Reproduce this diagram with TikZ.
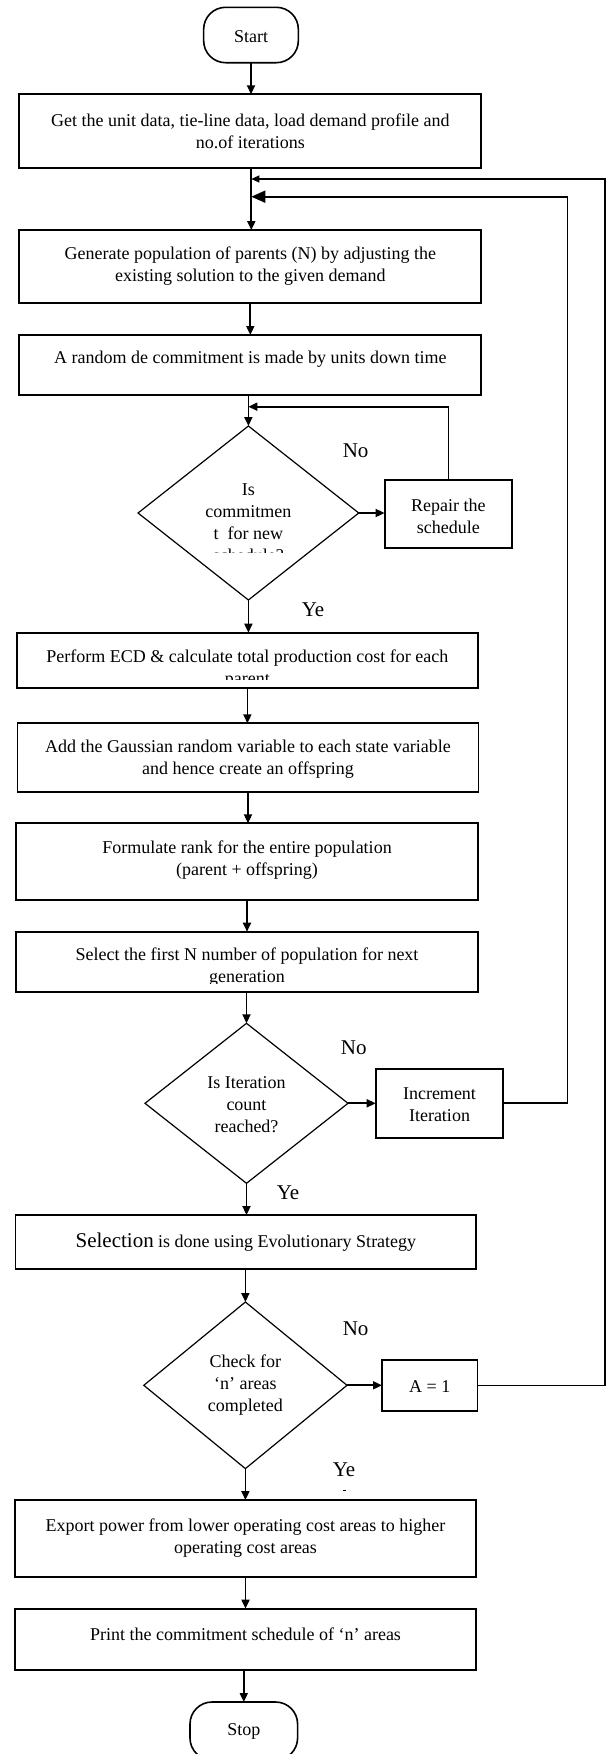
\documentclass[tikz,border=0pt]{standalone}
\usepackage{fontspec}
\setmainfont{Liberation Serif}
\usetikzlibrary{arrows.meta,shapes.geometric}
\begin{document}
\begin{tikzpicture}[x=1pt,y=-1pt,
  box/.style={draw,line width=1.8pt,inner sep=0pt,outer sep=0pt},
  dia/.style={draw,diamond,line width=1.2pt,inner sep=0pt,outer sep=0pt},
  term/.style={draw,line width=1.6pt,rounded corners=22pt,inner sep=0pt,outer sep=0pt},
  txt/.style={inner sep=0pt,align=center,font=\fontsize{18}{22}\selectfont},
  lbl/.style={inner sep=0pt,font=\fontsize{21}{24}\selectfont},
  arr/.style={line width=1.8pt,-{Triangle[length=9pt,width=8pt]}},
  bigarr/.style={line width=1.8pt,-{Triangle[length=14pt,width=12pt]}},
  thinarr/.style={line width=1.2pt,-{Triangle[length=8pt,width=7pt]}}
]
\useasboundingbox (0,0) rectangle (606,1754);
\fill[white] (0,0) rectangle (606,1754);

% shapes
\node[term,minimum width=94.7pt,minimum height=55.4pt] (start) at (251,35) {};
\node[box,minimum width=462pt,minimum height=73.4pt] (b1) at (250.3,131) {};
\node[box,minimum width=462pt,minimum height=73.3pt] (b2) at (250.3,266.7) {};
\node[box,minimum width=462pt,minimum height=60pt] (b3) at (250.3,365) {};
\node[dia,minimum width=220.7pt,minimum height=174pt] (d1) at (248.4,513) {};
\node[box,minimum width=127.6pt,minimum height=68.3pt] (rep) at (448.4,514.2) {};
\node[box,minimum width=461.6pt,minimum height=55.6pt] (b4) at (247.4,660.5) {};
\node[box,minimum width=461pt,minimum height=69pt] (b5) at (248,757.8) {};
\node[box,minimum width=461.6pt,minimum height=76.7pt] (b6) at (247,861.7) {};
\node[box,minimum width=461.6pt,minimum height=60pt] (b7) at (247,961.7) {};
\node[dia,minimum width=203pt,minimum height=160pt] (d2) at (246.5,1103.3) {};
\node[box,minimum width=127.6pt,minimum height=68.7pt] (inc) at (439.5,1103.3) {};
\node[box,minimum width=460.7pt,minimum height=53.7pt] (b8) at (245.9,1241.9) {};
\node[dia,minimum width=203.2pt,minimum height=166.6pt] (d3) at (245.4,1385.3) {};
\node[box,minimum width=95.4pt,minimum height=50.7pt] (a1) at (429.7,1385.3) {};
\node[box,minimum width=461.5pt,minimum height=77.3pt] (b9) at (245.5,1538.7) {};
\node[box,minimum width=461.5pt,minimum height=61.3pt] (b10) at (245.5,1639.3) {};
\node[term,minimum width=107.6pt,minimum height=58pt] (stop) at (243.8,1731) {};

% texts
\node[txt] (tstart) at (251,36.5) {Start};
\node[txt] (t1) at (250.3,131) {Get the unit data, tie-line data, load demand profile and\\no.of iterations};
\node[txt] (t2) at (250.3,266.5) {Generate population of parents (N) by adjusting the\\existing solution to the given demand};
\node[txt] (t3) at (250.3,359) {A random de commitment is made by units down time};
\begin{scope}
  \clip (130,470) rectangle (370,552);
  \node[txt] (td1) at (248.4,522.5) {Is\\commitmen\\t\hspace{0.5em}for new\\schedule?};
\end{scope}
\node[txt] (trep) at (448.4,516) {Repair the\\schedule};
\begin{scope}
  \clip (20,640) rectangle (475,679);
  \node[txt] (t4) at (247.4,669) {Perform ECD \& calculate total production cost for each\\parent};
\end{scope}
\node[txt] (t5) at (248,759.3) {Add the Gaussian random variable to each state variable\\and hence create an offspring};
\node[txt] (t6) at (247,860) {Formulate rank for the entire population\\(parent + offspring)};
\begin{scope}
  \clip (20,935) rectangle (475,983);
  \node[txt] (t7) at (247,967) {Select the first N number of population for next\\generation};
\end{scope}
\node[txt] (td2) at (246.5,1105) {Is Iteration\\count\\reached?};
\node[txt] (tinc) at (439.5,1105) {Increment\\Iteration};
\node[txt] (t8) at (245.9,1242) {{\fontsize{21}{22}\selectfont Selection} is done using Evolutionary Strategy};
\node[txt] (td3) at (245.4,1385) {Check for\\‘n’ areas\\completed};
\node[txt] (ta1) at (429.7,1387) {A = 1};
\node[txt] (t9) at (245.5,1537.6) {Export power from lower operating cost areas to higher\\operating cost areas};
\node[txt] (t10) at (245.5,1634) {Print the commitment schedule of ‘n’ areas};
\node[txt] (tstop) at (243.8,1731.5) {Stop};

% labels
\node[lbl] (no1) at (355.6,451) {No};
\node[lbl] (ye1) at (313,610) {Ye};
\node[lbl] (no2) at (353.7,1047.7) {No};
\node[lbl] (ye2) at (288,1192.3) {Ye};
\node[lbl] (no3) at (355.6,1329) {No};
\node[lbl] (ye3) at (344,1469.3) {Ye};
\draw[line width=0.8pt] (342.5,1490) -- (345.5,1490);

% junction coordinates
\coordinate (j1) at (251.3,179);
\coordinate (j2) at (251.3,196.7);
\coordinate (j3) at (248.4,406.7);
\coordinate (c1) at (605,179);
\coordinate (c2) at (567.5,196.7);

% main flow
\draw[arr] (start.south) -- (start.south |- b1.north);
\draw[arr] (j1 |- b1.south) -- (j1 |- b2.north);
\draw[arr] (b2.south) -- (b3.north);
\draw[arr] (d1.north |- b3.south) -- (d1.north);
\draw[arr] (d1.south) -- (d1.south |- b4.north);
\draw[arr] (b4.south) -- (b4.south |- b5.north);
\draw[arr] (b5.south) -- (b5.south |- b6.north);
\draw[arr] (b6.south) -- (b6.south |- b7.north);
\draw[arr] (d2.north |- b7.south) -- (d2.north);
\draw[arr] (d2.south) -- (d2.south |- b8.north);
\draw[arr] (d3.north |- b8.south) -- (d3.north);
\draw[arr] (d3.south) -- (d3.south |- b9.north);
\draw[arr] (b9.south) -- (b9.south |- b10.north);
\draw[arr] (stop.north |- b10.south) -- (stop.north);

% side branches
\draw[arr] (d1.east) -- (d1.east -| rep.west);
\draw[arr] (d2.east) -- (d2.east -| inc.west);
\draw[arr] (d3.east) -- (d3.east -| a1.west);

% loops
\draw[arr] (rep.north) |- (j3);
\draw[bigarr] (inc.east) -| (c2) -- (j2);
\draw[thinarr] (a1.east) -| (c1) -- (j1);
\end{tikzpicture}
\end{document}
